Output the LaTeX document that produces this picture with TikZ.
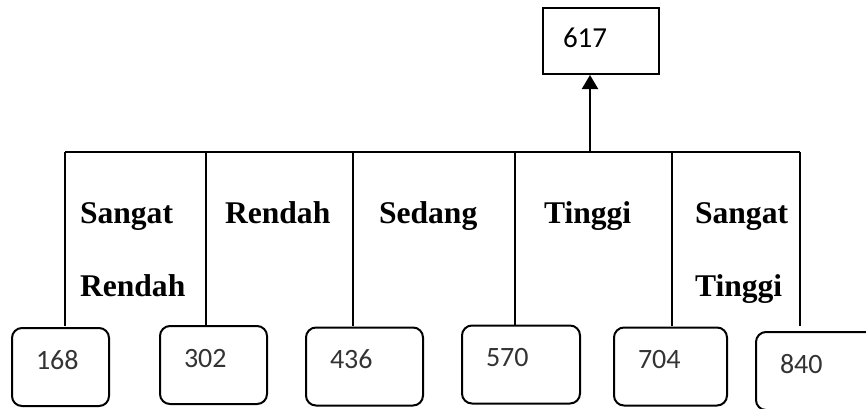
\documentclass[tikz,border=0pt]{standalone}
\usepackage{fontspec}
\setmainfont{Liberation Serif}
\newfontfamily\angka{Carlito}
\usetikzlibrary{arrows.meta}

\begin{document}
\begin{tikzpicture}[x=0.5pt,y=-0.5pt,line width=1pt,>={Triangle[width=8pt,length=7pt]},
 kelas/.style={anchor=base west,align=left,inner sep=0pt,font=\bfseries\fontsize{15.8pt}{36.5pt}\selectfont},
 nilai/.style={draw,rounded corners=5pt,align=left,inner xsep=12pt,inner ysep=0pt,text height=20.5pt,text depth=18.5pt,font=\angka\fontsize{14pt}{16pt}\selectfont,text=black!80}]
\useasboundingbox (0,0) rectangle (866,408);
\clip (0,0) rectangle (866,408);
\node[draw,text width=38pt,inner xsep=10pt,inner ysep=0pt,text height=19.5pt,text depth=13.5pt,align=left,font=\angka\fontsize{14.5pt}{16pt}\selectfont] (hasil) at (601,41) {617};
% kelas (base = last line)
\node[kelas] (sr) at (79,296) {Sangat\\Rendah};
\node[kelas] (r) at (224,223) {Rendah};
\node[kelas] (s) at (378,223) {Sedang};
\node[kelas] (t) at (543,223) {Tinggi};
\node[kelas] (st) at (694,296) {Sangat\\Tinggi};
% nilai
\node[nilai,text width=24.5pt] (n168) at (60.5,367) {168};
\node[nilai,text width=29.5pt] (n302) at (213.5,365) {302};
\node[nilai,text width=34.5pt] (n436) at (364.5,366.5) {436};
\node[nilai,text width=35pt] (n570) at (521,364.5) {570};
\node[nilai,text width=32.5pt] (n704) at (670.5,366.5) {704};
\node[nilai,text width=36pt] (n840) at (816,371) {840};
\draw (65,152) -- (800,152);
\foreach \x in {65,206,353,515,672,800}{\draw (\x,152) -- (\x,326);}
\coordinate (pusat) at (590,152);
\draw[->] (pusat) -- (pusat |- hasil.south);
\end{tikzpicture}
\end{document}
